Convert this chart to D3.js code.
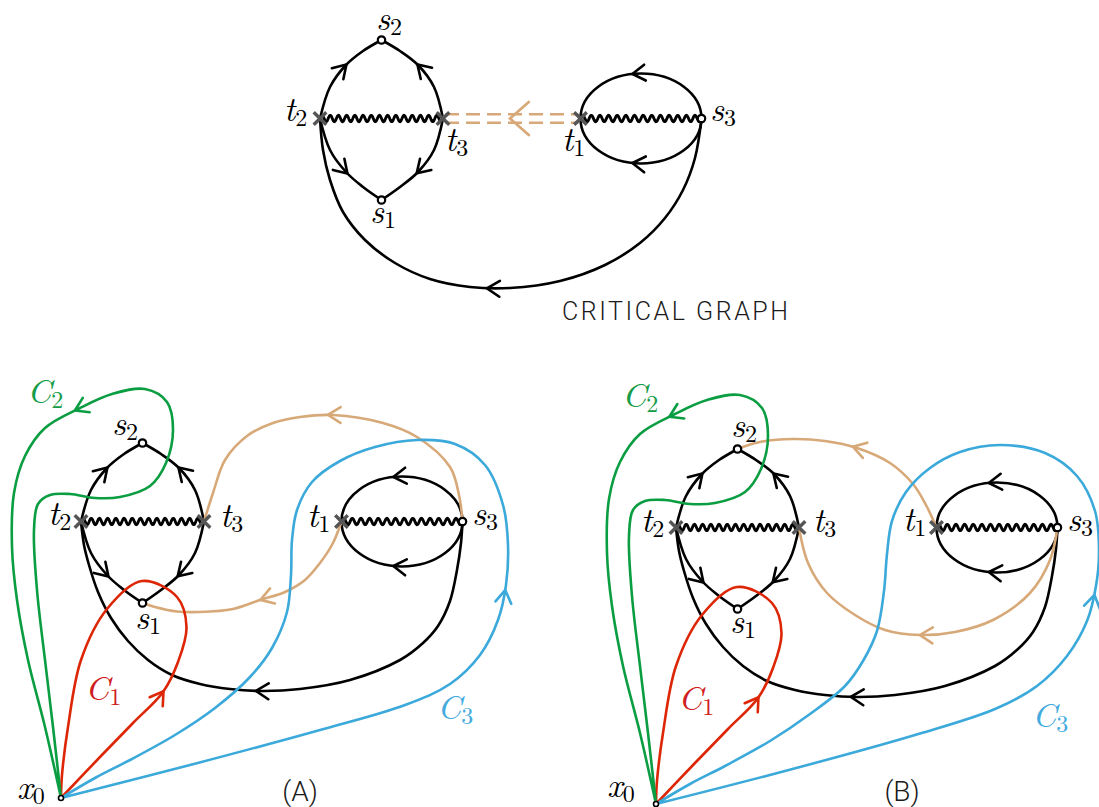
<!DOCTYPE html>
<html>
<head>
<meta charset="utf-8">
<script src="https://cdn.jsdelivr.net/npm/d3@7/dist/d3.min.js"></script>
<style>
  html, body { margin: 0; padding: 0; background: #fff; }
  svg { display: block; }
</style>
</head>
<body>
<svg id="fig" width="1099" height="807"></svg>
<script>
// ---------------------------------------------------------------
// Critical graph of a quadratic differential and the cycles C1..C3
// based at x0.  All geometry is given in the frame of panel (A);
// each copy of the graph is placed through its own pair of scales.
// ---------------------------------------------------------------

// copies of the graph: offset of each from the panel (A) frame
const copies = [
  { name: "top", dx: 239, dy: -403 },
  { name: "A",   dx: 0,   dy: 0 },
  { name: "B",   dx: 595, dy: 6 }
];

// vertices: zeros s_i (open circles) and turning points t_i (crosses)
const zeros = [
  { id: "s1", x: 142.5, y: 603 },
  { id: "s2", x: 142.5, y: 443 },
  { id: "s3", x: 462.5, y: 521.5 }
];
const turningPoints = [
  { id: "t1", x: 341.5, y: 521.5 },
  { id: "t2", x: 81,    y: 521.5 },
  { id: "t3", x: 204,   y: 521.5 }
];

// branch cuts (wavy segments) between vertex pairs
const cuts = [["t2", "t3"], ["t1", "s3"]];

// oriented trajectories of the critical graph, with arrow tips
const lensUpLeft   = [[81,521.5],[91,490],[107,468],[124,454],[142.5,443]];
const lensUpRight  = [[204,521.5],[195,490],[179,468],[161,454],[142.5,443]];
const lensLowLeft  = [[81,521.5],[91,553],[107,575],[124,590],[142.5,603]];
const lensLowRight = [[204,521.5],[195,553],[179,575],[161,590],[142.5,603]];
const lensEdges = [
  { pts: lensUpLeft,   tip: [108, 468] },
  { pts: lensUpRight,  tip: [178, 468] },
  { pts: lensLowLeft,  tip: [109, 576] },
  { pts: lensLowRight, tip: [177, 576] }
];
// outer trajectory from s3 round the bottom to t2 (rounder in the top drawing)
const outerArcTop = [[462.5,521.5],[456,561],[444,593],[426,621],[401,646],[366,668],
                     [321,684],[271,691],[231,690],[191,682],[156,666],[126,643],
                     [104,615],[91,583],[84,553],[81,521.5]];
const outerArcPanel = [[462.5,521.5],[461,543],[457,570],[450,601],[438,626],[423,643],
                       [400,660],[350,680],[300,689],[262,691],[230,689],[200,684],
                       [172,675],[148,660],[128,641],[111,618],[98,592],[89,565],
                       [84,545],[81,521.5]];
// closed trajectory around the cut t1-s3 (ellipse), arrows on both halves
const loopRadii = [60.5, 45];
const loopTips = [[393.5, 476.5], [393.5, 566.5]];

// based cycles
const cycleC1 = [[61,798],[100,757],[133,723],[163,692],[178,662],[186.5,627],[177,597],
                 [142,581],[107,609],[81,660],[68,727],[62,775],[61,798]];
const cycleC2 = [[61,798],[53,727],[45,660],[37,590],[34,530],[38,504],[50,495],[70,494],
                 [95,498],[120,497],[150,486],[166,463],[173,430],[167,402],[145,389],
                 [112,394],[80,408],[45,428],[25,456],[14,493],[12,547],[17,600],[28,660],
                 [45,727],[61,798]];
const cycleC3A = [[61,798],[190,765],[320,730],[405,705],[450,684],[480,655],[498,620],
                  [506,585],[508,545],[503,505],[485,465],[455,444],[417,440],[375,447],
                  [340,461],[312,482],[297,510],[292,540],[291,575],[287,612],[272,648],
                  [250,677],[215,708],[175,735],[130,760],[95,778],[61,798]];
const cycleC3B = [[61,798],[190,765],[320,729],[400,703],[442,680],[472,650],[492,615],
                  [501,580],[504,545],[500,505],[482,470],[450,447],[405,439],[365,446],
                  [335,462],[311,486],[297,515],[292,548],[289,585],[282,625],[268,655],
                  [250,680],[215,708],[175,735],[130,760],[95,778],[61,798]];
const cyclesA = [
  { key: "C1", pts: cycleC1,  tip: [162, 690] },
  { key: "C2", pts: cycleC2,  tip: [72, 405] },
  { key: "C3", pts: cycleC3A, tip: [504, 590] }
];
const cyclesB = [
  { key: "C1", pts: cycleC1,  tip: [160, 689] },
  { key: "C2", pts: cycleC2,  tip: [73, 408] },
  { key: "C3", pts: cycleC3B, tip: [500, 589] }
];

// saddle connections after the deformation, panel (A) and panel (B)
const flowA = [
  { pts: [[462.5,521.5],[459,495],[450,467],[417,437],[383,423],[333,415],[300,417],
          [273,423],[247,436],[225,460],[213,493],[204,521.5]], tip: [328, 415] },
  { pts: [[341.5,521.5],[333,543],[320,563],[305,580],[285,592],[260,600],[233,609],
          [200,612],[177,611.5],[155,607],[142.5,603]], tip: [260, 599] }
];
const flowB = [
  { pts: [[341.5,521.5],[331,499],[318,478],[295,457],[262,442],[230,435],[198,433],
          [165,436],[142.5,443]], tip: [258, 441] },
  { pts: [[462.5,521.5],[455,554],[435,587],[398,614],[360,626],[325,629],[290,624],
          [260,609],[232,587],[213,557],[204,521.5]], tip: [325, 629] }
];

// label texts: letter, subscript, anchor (left, baseline) in page units
const labelsTop = [
  { t: "s", sub: "2", x: 376, y: 30 },
  { t: "t", sub: "2", x: 284, y: 121 },
  { t: "t", sub: "3", x: 445, y: 151 },
  { t: "t", sub: "1", x: 562, y: 151 },
  { t: "s", sub: "3", x: 710, y: 121 },
  { t: "s", sub: "1", x: 370, y: 223 }
];
const labelsA = [
  { t: "s", sub: "2", x: 112, y: 435 },
  { t: "t", sub: "2", x: 48,  y: 525 },
  { t: "t", sub: "3", x: 220, y: 527 },
  { t: "t", sub: "1", x: 307, y: 527 },
  { t: "s", sub: "3", x: 472, y: 525 },
  { t: "s", sub: "1", x: 135, y: 629 },
  { t: "x", sub: "0", x: 17,  y: 799 },
  { t: "C", sub: "1", x: 85,  y: 700, key: "C1" },
  { t: "C", sub: "2", x: 27,  y: 403, key: "C2" },
  { t: "C", sub: "3", x: 437, y: 719, key: "C3" }
];
const labelsB = [
  { t: "s", sub: "2", x: 731,  y: 437 },
  { t: "t", sub: "2", x: 641,  y: 532 },
  { t: "t", sub: "3", x: 813,  y: 532 },
  { t: "t", sub: "1", x: 903,  y: 531 },
  { t: "s", sub: "3", x: 1067, y: 531 },
  { t: "s", sub: "1", x: 730,  y: 633 },
  { t: "x", sub: "0", x: 607,  y: 797 },
  { t: "C", sub: "1", x: 678,  y: 710, key: "C1" },
  { t: "C", sub: "2", x: 622,  y: 407, key: "C2" },
  { t: "C", sub: "3", x: 1032, y: 727, key: "C3" }
];
const captions = [
  { text: "CRITICAL GRAPH", x: 675, y: 320, size: 25, len: 226 },
  { text: "(A)", x: 300, y: 801, size: 28, len: null },
  { text: "(B)", x: 902, y: 801, size: 28, len: null }
];

// ---------------------------------------------------------------
const colour = {
  ink: "#000", cross: "#555",
  C1: "#dc2605", C2: "#0b9d42", C3: "#3ba9da", flow: "#d8a978",
  C1text: "#cf2020", C2text: "#159c48", C3text: "#43abdd"
};
const mathFont = '"Latin Modern Roman", "Liberation Serif", "DejaVu Serif"';
const capFont = '"Roboto", "Open Sans", "Liberation Sans"';
const lineW = 2.6;

const svg = d3.select("#fig");
const byId = Object.fromEntries([...zeros, ...turningPoints].map(d => [d.id, d]));

function scalesFor(c) {
  const sx = d3.scaleLinear().domain([0, 1000]).range([c.dx, c.dx + 1000]);
  const sy = d3.scaleLinear().domain([0, 1000]).range([c.dy, c.dy + 1000]);
  return { sx, sy };
}

function smooth(sx, sy) {
  return d3.line().x(d => sx(d[0])).y(d => sy(d[1])).curve(d3.curveCatmullRom.alpha(0.5));
}

// open chevron on a path, at the point nearest to `tip`, pointing along the path
function chevron(g, node, tip, stroke, L = 15, ang = 0.56, w = lineW) {
  const total = node.getTotalLength();
  let best = 0, bd = Infinity;
  for (let l = 0; l <= total; l += 0.5) {
    const p = node.getPointAtLength(l);
    const d = (p.x - tip[0]) ** 2 + (p.y - tip[1]) ** 2;
    if (d < bd) { bd = d; best = l; }
  }
  const p = node.getPointAtLength(best);
  const a = node.getPointAtLength(Math.max(0, best - 2));
  const b = node.getPointAtLength(Math.min(total, best + 2));
  const th = Math.atan2(b.y - a.y, b.x - a.x);
  const arm = s => [p.x - L * Math.cos(th + s * ang), p.y - L * Math.sin(th + s * ang)];
  g.append("path")
    .attr("d", d3.line()([arm(1), [p.x, p.y], arm(-1)]))
    .attr("fill", "none").attr("stroke", stroke)
    .attr("stroke-width", w).attr("stroke-linecap", "round").attr("stroke-linejoin", "miter");
}

function drawPath(g, d, stroke, w = lineW) {
  return g.append("path").attr("d", d).attr("fill", "none")
    .attr("stroke", stroke).attr("stroke-width", w)
    .attr("stroke-linecap", "round").attr("stroke-linejoin", "round");
}

function wavy(a, b, sx, sy) {
  const len = b.x - a.x;
  const n = Math.round(len / 8.4);
  const lam = len / n;
  const pts = d3.range(0, len + 0.001, 0.5).map(u => [a.x + u, a.y - 3.2 * Math.sin(2 * Math.PI * u / lam)]);
  return d3.line().x(d => sx(d[0])).y(d => sy(d[1]))(pts);
}

function drawGraph(g, sx, sy, outer) {
  const line = smooth(sx, sy);
  [...lensEdges, outer].forEach(e => {
    const p = drawPath(g, line(e.pts), colour.ink);
    chevron(g, p.node(), [sx(e.tip[0]), sy(e.tip[1])], colour.ink);
  });
  // closed loop around the cut t1-s3, both halves oriented from s3 to t1
  const s3 = byId.s3, t1 = byId.t1;
  const [rx, ry] = loopRadii;
  [0, 1].forEach((sweep, i) => {
    const d = `M${sx(s3.x)},${sy(s3.y)} A${rx},${ry} 0 0 ${sweep} ${sx(t1.x)},${sy(t1.y)}`;
    const p = drawPath(g, d, colour.ink);
    chevron(g, p.node(), [sx(loopTips[i][0]), sy(loopTips[i][1])], colour.ink);
  });
  cuts.forEach(([u, v]) => {
    drawPath(g, wavy(byId[u], byId[v], sx, sy), colour.ink, 2.9);
  });
}

function drawVertices(g, sx, sy) {
  turningPoints.forEach(t => {
    const x = sx(t.x), y = sy(t.y), h = 6.3;
    g.append("path")
      .attr("d", `M${x - h},${y - h}L${x + h},${y + h}M${x - h},${y + h}L${x + h},${y - h}`)
      .attr("stroke", colour.cross).attr("stroke-width", 3.4).attr("fill", "none");
  });
  g.selectAll(null).data(zeros).join("circle")
    .attr("cx", d => sx(d.x)).attr("cy", d => sy(d.y)).attr("r", 3.7)
    .attr("fill", "#fff").attr("stroke", colour.ink).attr("stroke-width", 2.2);
}

function drawLabels(g, list) {
  list.forEach(l => {
    const fill = l.key ? colour[l.key + "text"] : "#000";
    const t = g.append("text")
      .attr("x", l.x).attr("y", l.y)
      .style("font-family", mathFont).style("fill", fill);
    t.append("tspan").style("font-family", mathFont)
      .style("font-style", "italic").style("font-size", "34px").text(l.t);
    t.append("tspan").style("font-family", mathFont)
      .style("font-style", "normal").style("font-size", "24px")
      .attr("dy", 5).text(l.sub);
  });
}

// ---------- top: the critical graph alone ----------
{
  const { sx, sy } = scalesFor(copies[0]);
  const g = svg.append("g");
  drawGraph(g, sx, sy, { pts: outerArcTop, tip: [248, 691] });
  // dashed double trajectory t3 <- t1
  const a = byId.t3, b = byId.t1;
  [-4.2, 4.2].forEach(off => {
    g.append("line")
      .attr("x1", sx(a.x) + 2).attr("x2", sx(b.x) - 2)
      .attr("y1", sy(a.y) + off).attr("y2", sy(a.y) + off)
      .attr("stroke", colour.flow).attr("stroke-width", 2.6)
      .attr("stroke-dasharray", "14,7");
  });
  const guide = g.append("path")
    .attr("d", d3.line()([[sx(b.x), sy(b.y)], [sx(a.x), sy(a.y)]]))
    .attr("stroke", "none").attr("fill", "none");
  chevron(g, guide.node(), [sx(271), sy(521.5)], colour.flow, 25, 0.72, 2.8);
  drawVertices(g, sx, sy);
  drawLabels(g, labelsTop);
}

// ---------- panels (A) and (B) ----------
[[copies[1], flowA, cyclesA, labelsA], [copies[2], flowB, cyclesB, labelsB]]
  .forEach(([c, flows, cycles, labels]) => {
    const { sx, sy } = scalesFor(c);
    const g = svg.append("g");
    const line = smooth(sx, sy);
    drawGraph(g, sx, sy, { pts: outerArcPanel, tip: [256, 691] });
    flows.forEach(f => {
      const p = drawPath(g, line(f.pts), colour.flow);
      chevron(g, p.node(), [sx(f.tip[0]), sy(f.tip[1])], colour.flow);
    });
    cycles.forEach(cy => {
      const p = drawPath(g, line(cy.pts), colour[cy.key]);
      chevron(g, p.node(), [sx(cy.tip[0]), sy(cy.tip[1])], colour[cy.key]);
    });
    // base point
    g.append("circle").attr("cx", sx(61)).attr("cy", sy(798)).attr("r", 2.5)
      .attr("fill", "#fff").attr("stroke", "#000").attr("stroke-width", 1.6);
    drawVertices(g, sx, sy);
    drawLabels(g, labels);
  });

// captions
svg.selectAll(null).data(captions).join("text")
  .attr("x", d => d.x).attr("y", d => d.y)
  .attr("text-anchor", "middle")
  .style("font-family", capFont).style("font-weight", 300)
  .style("font-size", d => d.size + "px").style("fill", "#1a1a1a")
  .each(function (d) {
    if (d.len) d3.select(this).attr("textLength", d.len).attr("lengthAdjust", "spacing");
  })
  .text(d => d.text);
</script>
</body>
</html>
